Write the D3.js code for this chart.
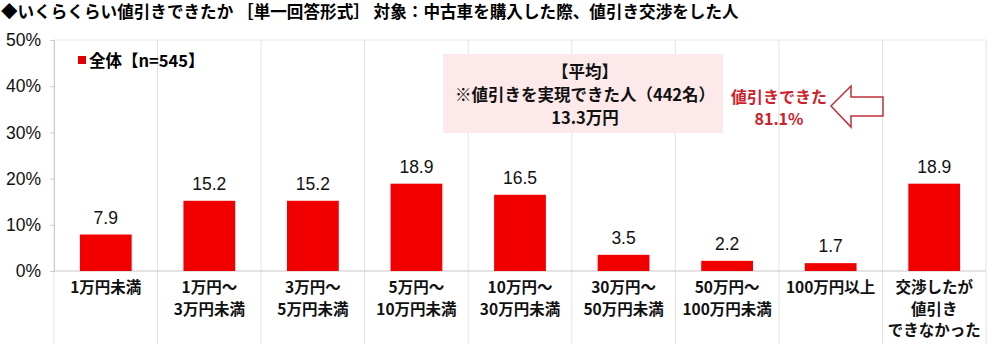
<!DOCTYPE html>
<html>
<head>
<meta charset="utf-8">
<script src="https://cdn.jsdelivr.net/npm/d3@7"></script>
<style>
  body { margin: 0; background: #fff; }
  svg { display: block; font-family: "Noto Sans CJK JP", "Noto Sans", sans-serif; }
</style>
</head>
<body>
<svg id="chart" width="1000" height="344"></svg>
<script>
// data
var categories = [
  ["1万円未満"],
  ["1万円～", "3万円未満"],
  ["3万円～", "5万円未満"],
  ["5万円～", "10万円未満"],
  ["10万円～", "30万円未満"],
  ["30万円～", "50万円未満"],
  ["50万円～", "100万円未満"],
  ["100万円以上"],
  ["交渉したが", "値引き", "できなかった"]
];
var values = [7.9, 15.2, 15.2, 18.9, 16.5, 3.5, 2.2, 1.7, 18.9];
var yTicks = [0, 10, 20, 30, 40, 50];
var titleText = "◆いくらくらい値引きできたか ［単一回答形式］ 対象：中古車を購入した際、値引き交渉をした人";
var legendText = "全体【n=545】";
var noteLines = ["【平均】", "※値引きを実現できた人（442名）", "13.3万円"];
var calloutLines = ["値引きできた", "81.1%"];

var svg = d3.select("#chart");
var margin = {left: 54, right: 986, top: 40, bottom: 271};

var x = d3.scaleBand()
    .domain(d3.range(categories.length))
    .range([margin.left, margin.right])
    .paddingInner(0).paddingOuter(0);

var y = d3.scaleLinear().domain([0, 50]).range([margin.bottom, margin.top]);

// title
svg.append("text")
    .attr("x", 1).attr("y", 18)
    .attr("font-size", 16.6).attr("font-weight", "bold")
    .text(titleText);

// vertical separators
svg.append("g").selectAll("line")
    .data(d3.range(categories.length + 1))
  .enter().append("line")
    .attr("x1", function(d) { return d < categories.length ? x(d) : margin.right; })
    .attr("x2", function(d) { return d < categories.length ? x(d) : margin.right; })
    .attr("y1", margin.top)
    .attr("y2", 344)
    .attr("stroke", "#e2e2e2").attr("stroke-width", 1);

// top border
svg.append("line")
    .attr("x1", margin.left).attr("x2", margin.right)
    .attr("y1", margin.top).attr("y2", margin.top)
    .attr("stroke", "#e6e6e6");

// y axis
var yAxis = svg.append("g")
    .attr("transform", "translate(" + margin.left + ",0)")
    .call(d3.axisLeft(y).tickValues(yTicks).tickSize(4).tickFormat(function(d) { return d + "%"; }));
yAxis.select(".domain").attr("stroke", "#cccccc");
yAxis.selectAll(".tick line").attr("stroke", "#cccccc");
yAxis.selectAll("text")
    .attr("x", -13).attr("font-size", 17.5).attr("fill", "#111")
    .attr("font-family", "Arial, 'Liberation Sans', sans-serif");

// baseline
svg.append("line")
    .attr("x1", margin.left).attr("x2", margin.right)
    .attr("y1", y(0)).attr("y2", y(0))
    .attr("stroke", "#c8c8c8");

// bars
var barW = x.bandwidth() * 0.5;
svg.append("g").selectAll("rect")
    .data(values)
  .enter().append("rect")
    .attr("x", function(d, i) { return x(i) + (x.bandwidth() - barW) / 2; })
    .attr("y", function(d) { return y(d); })
    .attr("width", barW)
    .attr("height", function(d) { return y(0) - y(d); })
    .attr("fill", "#f20000");

// value labels
svg.append("g").selectAll("text")
    .data(values)
  .enter().append("text")
    .attr("x", function(d, i) { return x(i) + x.bandwidth() / 2; })
    .attr("y", function(d) { return y(d) - 11; })
    .attr("text-anchor", "middle")
    .attr("font-size", 17.5)
    .attr("font-family", "Arial, 'Liberation Sans', sans-serif")
    .attr("fill", "#111")
    .text(function(d) { return d.toFixed(1); });

// category labels
var cat = svg.append("g").selectAll("text")
    .data(categories)
  .enter().append("text")
    .attr("x", function(d, i) { return x(i) + x.bandwidth() / 2; })
    .attr("y", 293)
    .attr("text-anchor", "middle")
    .attr("font-size", 15.5).attr("font-weight", "bold").attr("fill", "#111");
cat.selectAll("tspan")
    .data(function(d) { return d; })
  .enter().append("tspan")
    .attr("x", function() { return d3.select(this.parentNode).attr("x"); })
    .attr("dy", function(d, i) { return i === 0 ? 0 : 21.5; })
    .text(function(d) { return d; });

// legend
svg.append("rect")
    .attr("x", 78).attr("y", 56).attr("width", 8).attr("height", 8)
    .attr("fill", "#e00000");
svg.append("text")
    .attr("x", 89).attr("y", 67)
    .attr("font-size", 16.5).attr("font-weight", "bold")
    .text(legendText);

// average note box
svg.append("rect")
    .attr("x", 443).attr("y", 54).attr("width", 280).attr("height", 79)
    .attr("fill", "#fde9e9");
svg.append("g").selectAll("text")
    .data(noteLines)
  .enter().append("text")
    .attr("x", 585)
    .attr("y", function(d, i) { return 78 + i * 23; })
    .attr("text-anchor", "middle")
    .attr("font-size", 16.5).attr("font-weight", "bold").attr("fill", "#111")
    .text(function(d) { return d; });

// callout
svg.append("g").selectAll("text")
    .data(calloutLines)
  .enter().append("text")
    .attr("x", 779)
    .attr("y", function(d, i) { return 103 + i * 22; })
    .attr("text-anchor", "middle")
    .attr("font-size", 16).attr("font-weight", "bold").attr("fill", "#d0202a")
    .text(function(d) { return d; });

// outlined arrow pointing left
var arrowPts = [[831, 106], [851, 86], [851, 97], [883, 97], [883, 116], [851, 116], [851, 127]];
svg.append("path")
    .attr("d", d3.line()(arrowPts) + "Z")
    .attr("fill", "#fff")
    .attr("stroke", "#c0303a").attr("stroke-width", 1.5);
</script>
</body>
</html>
